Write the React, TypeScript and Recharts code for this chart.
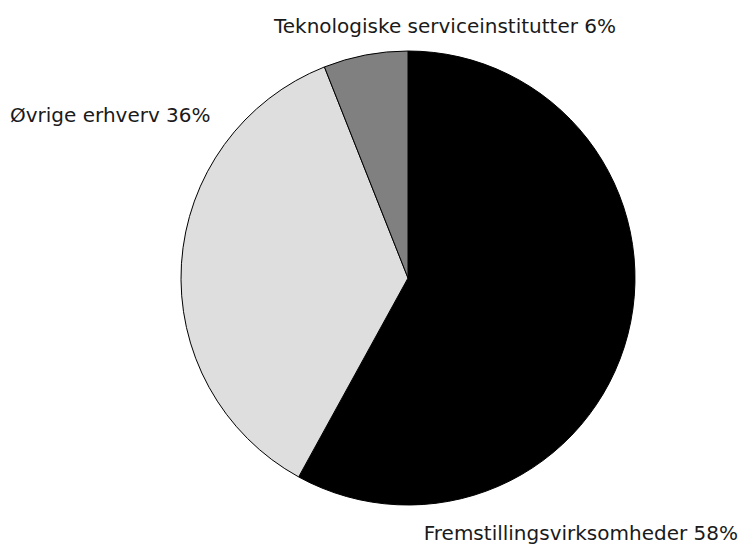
import React from "react";
import { PieChart, Pie, Cell } from "recharts";

const categories = ["Fremstillingsvirksomheder", "Øvrige erhverv", "Teknologiske serviceinstitutter"];
const shares = [58, 36, 6];
const colors = ["#000000", "#dedede", "#808080"];

// label placement relative to pie centre (layout only)
const labelLayout: Record<string, { dx: number; dy: number; anchor: "start" | "middle" | "end" }> = {
  "Fremstillingsvirksomheder": { dx: 330, dy: 262, anchor: "end" },
  "Øvrige erhverv": { dx: -398, dy: -156, anchor: "start" },
  "Teknologiske serviceinstitutter": { dx: 37, dy: -245, anchor: "middle" },
};

const data = categories.map((name, i) => ({ name, value: shares[i] }));

const renderLabel = (props: any) => {
  const { cx, cy, name, value } = props;
  const l = labelLayout[name];
  return (
    <text
      x={cx + l.dx}
      y={cy + l.dy}
      textAnchor={l.anchor}
      fill="#1a1a1a"
      fontSize={20}
      fontFamily="'DejaVu Sans', sans-serif"
    >
      {`${name} ${value}%`}
    </text>
  );
};

export default function App() {
  return (
    <div style={{ position: "absolute", left: 0, top: 0, background: "#fff" }}>
      <PieChart width={742} height={546}>
        <Pie
          data={data}
          dataKey="value"
          nameKey="name"
          cx={403}
          cy={273}
          outerRadius={227}
          startAngle={90}
          endAngle={-270}
          stroke="#000"
          strokeWidth={1}
          label={renderLabel}
          labelLine={false}
          isAnimationActive={false}
        >
          {data.map((d, i) => (
            <Cell key={d.name} fill={colors[i]} />
          ))}
        </Pie>
      </PieChart>
    </div>
  );
}
